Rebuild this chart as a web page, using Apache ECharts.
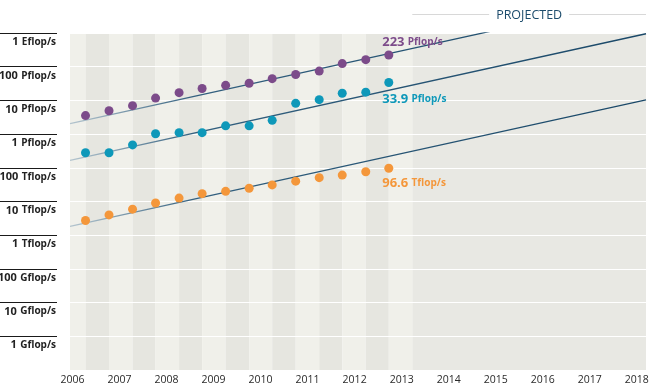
<!DOCTYPE html>
<html><head><meta charset="utf-8">
<script src="https://cdn.jsdelivr.net/npm/echarts@6/dist/echarts.min.js"></script>
<style>html,body{margin:0;padding:0;background:#fff}#c{width:650px;height:391px}</style>
</head><body><div id="c"></div>
<script>
// TOP500 list dates (decimal years as placed on the chart)
const listDates = [2006.33, 2006.83, 2007.33, 2007.82, 2008.32, 2008.81, 2009.31, 2009.81, 2010.30, 2010.80, 2011.30, 2011.79, 2012.29, 2012.78];
// Performance values in Tflop/s
const sumValues  = [3540, 4920, 6970, 11700, 16950, 22600, 27950, 32400, 44200, 58900, 74200, 123400, 162000, 223000];
const n1Values   = [280.6, 280.6, 478.2, 1026, 1105, 1105, 1759, 1759, 2566, 8162, 10510, 16324, 17590, 33863];
const n500Values = [2.74, 4.0, 5.93, 9.0, 12.64, 17.1, 20.05, 24.67, 31.12, 40.19, 50.9, 60.8, 76.5, 96.6];
// Trend (projection) lines: values at the start and end years
const trendYears = [2006, 2018.25];
const sumTrend   = [2040, 11600000];
const n1Trend    = [166, 950000];
const n500Trend  = [1.82, 10400];
// Axis tick values / labels
const yTickValues = [1e-3, 1e-2, 1e-1, 1, 10, 100, 1e3, 1e4, 1e5, 1e6];
const yTickNums  = ['1', '10', '100', '1', '10', '100', '1', '10', '100', '1'];
const yTickUnits = ['Gflop/s', 'Gflop/s', 'Gflop/s', 'Tflop/s', 'Tflop/s', 'Tflop/s', 'Pflop/s', 'Pflop/s', 'Pflop/s', 'Eflop/s'];
const xMin = 2006, xMax = 2018.25;
const projectedLabel = 'PROJECTED';

const colors = ['#7c4b8a', '#0e98b9', '#f4973b'];
const FONT = '"Open Sans", "Noto Sans", sans-serif';

const zip = (a, b) => a.map((v, i) => [v, b[i]]);

function fmtFlops(v) {
  if (v >= 1000) return { n: (v / 1000).toPrecision(3), u: 'Pflop/s' };
  return { n: v.toPrecision(3), u: 'Tflop/s' };
}

// background stripes between consecutive lists, then the projected area
const step = listDates[1] - listDates[0];
const projStart = listDates[listDates.length - 1] + step;
const bounds = [xMin].concat(listDates).concat([projStart]);
const stripes = [];
for (let i = 0; i < bounds.length - 1; i++) {
  stripes.push([{ xAxis: bounds[i], itemStyle: { color: i % 2 === 0 ? '#f0f0ea' : '#e6e6e0' } }, { xAxis: bounds[i + 1] }]);
}
stripes.push([{ xAxis: projStart, itemStyle: { color: '#e8e8e3' } }, { xAxis: xMax }]);

const trendGradient = {
  type: 'linear', x: 0, y: 0, x2: 1, y2: 0,
  colorStops: [{ offset: 0, color: '#b7c7d0' }, { offset: 0.22, color: '#33607f' }, { offset: 1, color: '#1a4868' }]
};

function trendSeries(vals, withArea) {
  const s = {
    type: 'line', data: zip(trendYears, vals), showSymbol: false, silent: true, z: 2,
    lineStyle: { color: trendGradient, width: 1.3 }, clip: true
  };
  if (withArea) s.markArea = { silent: true, z: 1, label: { show: false }, data: stripes };
  return s;
}

const labelPos = [[-2.1, -8.2], [-2.1, 20.8], [-2.1, 19.8]];
function pointSeries(vals, idx) {
  const last = vals.length - 1;
  return {
    type: 'scatter', data: zip(listDates, vals), symbolSize: 9, z: 3, silent: true,
    itemStyle: { color: colors[idx], opacity: 1 },
    label: {
      show: true, position: labelPos[idx], align: 'left', verticalAlign: 'middle',
      formatter: p => {
        if (p.dataIndex !== last) return '';
        const f = fmtFlops(vals[last]);
        return '{n|' + f.n + '} {u|' + f.u + '}';
      },
      rich: {
        n: { fontFamily: FONT, fontWeight: 'bold', fontSize: 13, color: colors[idx] },
        u: { fontFamily: FONT, fontWeight: 'bold', fontSize: 10, color: colors[idx] }
      }
    }
  };
}

const chart = echarts.init(document.getElementById('c'), null, { renderer: 'canvas' });
chart.setOption({
  animation: false,
  backgroundColor: '#ffffff',
  grid: { left: 70, right: 4, top: 33, bottom: 21, containLabel: false, outerBoundsMode: 'none' },
  xAxis: {
    type: 'value', min: xMin, max: xMax, interval: 1,
    axisLine: { show: false }, axisTick: { show: false }, splitLine: { show: false },
    axisLabel: {
      margin: 5, color: '#2a2a2a', fontFamily: FONT, fontSize: 10.5, padding: [0, 0, 0, 5],
      showMaxLabel: false,
      formatter: v => Number.isInteger(v) ? String(v) : ''
    }
  },
  yAxis: {
    type: 'log', logBase: 10, min: 1e-4, max: 1e6, offset: 13, z: 1.5,
    axisLine: { show: false },
    axisTick: { show: true, length: 57, customValues: yTickValues, lineStyle: { color: '#1a1a1a', width: 1 } },
    axisLabel: {
      customValues: yTickValues, margin: 1, verticalAlign: 'top', padding: [3, 0, 0, 0],
      formatter: v => {
        const i = yTickValues.findIndex(t => Math.abs(Math.log10(t) - Math.log10(v)) < 1e-6);
        if (i < 0) return '';
        return '{n|' + yTickNums[i] + '} {u|' + yTickUnits[i] + '}';
      },
      rich: {
        n: { fontFamily: FONT, fontWeight: 'bold', fontSize: 11, color: '#222' },
        u: { fontFamily: FONT, fontWeight: 'bold', fontSize: 10, color: '#222' }
      }
    },
    splitLine: { show: true, lineStyle: { color: '#ffffff', width: 1 } }
  },
  series: [
    trendSeries(sumTrend, true),
    trendSeries(n1Trend, false),
    trendSeries(n500Trend, false),
    pointSeries(sumValues, 0),
    pointSeries(n1Values, 1),
    pointSeries(n500Values, 2)
  ]
});

// "PROJECTED" header over the projected region
const px0 = chart.convertToPixel({ xAxisIndex: 0 }, projStart);
const px1 = chart.convertToPixel({ xAxisIndex: 0 }, xMax);
const cx = (px0 + px1) / 2;
const halfGap = 40;
chart.setOption({
  graphic: [
    { type: 'line', silent: true, shape: { x1: px0, y1: 14.5, x2: cx - halfGap, y2: 14.5 }, style: { stroke: '#d8d8d8', lineWidth: 1 } },
    { type: 'line', silent: true, shape: { x1: cx + halfGap, y1: 14.5, x2: px1, y2: 14.5 }, style: { stroke: '#d8d8d8', lineWidth: 1 } },
    { type: 'text', silent: true, x: cx, y: 15, style: { text: projectedLabel, fill: '#1c4c6c', font: '12.5px ' + FONT, align: 'center', verticalAlign: 'middle' } }
  ]
});
</script>
</body></html>
